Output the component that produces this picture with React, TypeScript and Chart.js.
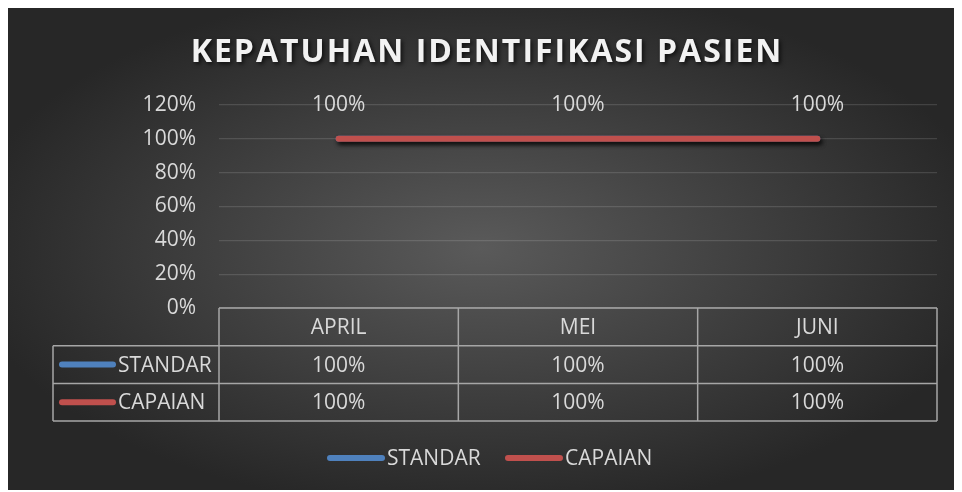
import React, { useEffect, useRef } from "react";
import { Chart, registerables } from "chart.js";

Chart.register(...registerables);

const categories = ["APRIL", "MEI", "JUNI"];
const standar = [1, 1, 1];
const capaian = [1, 1, 1];
const seriesNames = ["STANDAR", "CAPAIAN"];
const seriesColors = ["#4F81BD", "#C0504D"];
const titleText = "KEPATUHAN IDENTIFIKASI PASIEN";
const yMax = 1.2;
const yStep = 0.2;

const FONT = "'Open Sans', sans-serif";
const TEXT = "#D9D9D9";
const pct = (v: number) => Math.round(v * 100) + "%";

const decorPlugin = {
  id: "decor",
  beforeDraw(chart: any) {
    const { ctx, width, height } = chart;
    ctx.save();
    ctx.translate(width / 2, height / 2);
    ctx.scale(1, height / width);
    const g = ctx.createRadialGradient(0, 0, 0, 0, 0, width * 0.55);
    g.addColorStop(0, "#5a5a5a");
    g.addColorStop(1, "#272727");
    ctx.fillStyle = g;
    ctx.fillRect(-width, -width, width * 2, width * 2);
    ctx.restore();
  },
  beforeDatasetDraw(chart: any) {
    const ctx = chart.ctx;
    ctx.save();
    ctx.shadowColor = "rgba(0,0,0,0.55)";
    ctx.shadowBlur = 4;
    ctx.shadowOffsetX = 2;
    ctx.shadowOffsetY = 3;
  },
  afterDatasetDraw(chart: any) {
    chart.ctx.restore();
  },
  afterDraw(chart: any) {
    const { ctx, chartArea } = chart;
    const x = chart.scales.x;
    const y = chart.scales.y;
    // title
    ctx.save();
    ctx.font = `bold 32px ${FONT}`;
    (ctx as any).letterSpacing = "2px";
    ctx.fillStyle = "#F2F2F2";
    ctx.textAlign = "center";
    ctx.textBaseline = "middle";
    ctx.shadowColor = "rgba(0,0,0,0.7)";
    ctx.shadowBlur = 4;
    ctx.shadowOffsetX = 2;
    ctx.shadowOffsetY = 2;
    ctx.fillText(titleText, 479, 47);
    ctx.restore();

    ctx.save();
    ctx.font = `21px ${FONT}`;
    ctx.fillStyle = TEXT;
    ctx.textAlign = "center";
    ctx.textBaseline = "middle";
    // data labels
    capaian.forEach((v, i) => {
      ctx.fillText(pct(v), x.getPixelForValue(i), y.getPixelForValue(v) - 34);
    });

    // table
    const n = categories.length;
    const colW = (chartArea.right - chartArea.left) / n;
    const top = chartArea.bottom;
    const rowH = 37.7;
    const headB = top + rowH;
    const r1B = headB + rowH;
    const r2B = r1B + rowH;
    const leftX = 45;
    ctx.strokeStyle = "#A6A6A6";
    ctx.lineWidth = 1.5;
    ctx.beginPath();
    ctx.moveTo(chartArea.left, top);
    ctx.lineTo(chartArea.right, top);
    [headB, r1B, r2B].forEach((yy) => {
      ctx.moveTo(leftX, yy);
      ctx.lineTo(chartArea.right, yy);
    });
    for (let i = 0; i <= n; i++) {
      const xx = chartArea.left + colW * i;
      ctx.moveTo(xx, top);
      ctx.lineTo(xx, r2B);
    }
    ctx.moveTo(leftX, headB);
    ctx.lineTo(leftX, r2B);
    ctx.stroke();

    categories.forEach((c, i) => {
      ctx.fillText(c, x.getPixelForValue(i), (top + headB) / 2 + 1);
    });
    const rows = [standar, capaian];
    const rowMids = [(headB + r1B) / 2, (r1B + r2B) / 2];
    rows.forEach((vals, r) => {
      vals.forEach((v, i) => {
        ctx.fillText(pct(v), x.getPixelForValue(i), rowMids[r] + 1);
      });
    });
    // row keys
    ctx.lineCap = "round";
    ctx.lineWidth = 6;
    ctx.textAlign = "left";
    seriesNames.forEach((name, r) => {
      ctx.strokeStyle = seriesColors[r];
      ctx.beginPath();
      ctx.moveTo(54, rowMids[r]);
      ctx.lineTo(105, rowMids[r]);
      ctx.stroke();
      ctx.fillText(name, 110, rowMids[r] + 1);
    });

    // legend
    const ly = 452;
    const starts = [322, 500];
    seriesNames.forEach((name, r) => {
      const lx = starts[r];
      ctx.strokeStyle = seriesColors[r];
      ctx.beginPath();
      ctx.moveTo(lx, ly);
      ctx.lineTo(lx + 52, ly);
      ctx.stroke();
      ctx.fillText(name, lx + 57, ly + 1);
    });
    ctx.restore();
  },
};

export default function App() {
  const ref = useRef<HTMLCanvasElement>(null);
  useEffect(() => {
    if (!ref.current) return;
    const chart = new Chart(ref.current, {
      type: "line",
      data: {
        labels: categories,
        datasets: [
          {
            label: seriesNames[0],
            data: standar,
            borderColor: seriesColors[0],
            backgroundColor: seriesColors[0],
            borderWidth: 6,
            borderCapStyle: "round",
            pointRadius: 0,
            order: 1,
          },
          {
            label: seriesNames[1],
            data: capaian,
            borderColor: seriesColors[1],
            backgroundColor: seriesColors[1],
            borderWidth: 6,
            borderCapStyle: "round",
            pointRadius: 0,
            order: 0,
          },
        ],
      },
      options: {
        animation: false,
        responsive: true,
        maintainAspectRatio: false,
        layout: { padding: { top: 99, bottom: 182, left: 0, right: 17 } },
        plugins: {
          legend: { display: false },
          title: { display: false },
          tooltip: { enabled: false },
        },
        scales: {
          x: { display: false, offset: true },
          y: {
            min: 0,
            max: yMax,
            ticks: {
              stepSize: yStep,
              padding: 23,
              color: TEXT,
              font: { family: FONT, size: 21 },
              callback: (v: any) => pct(Number(v)),
            },
            grid: {
              color: "rgba(255,255,255,0.13)",
              lineWidth: 1.3,
              drawTicks: false,
            },
            border: { display: false },
            afterFit: (s: any) => {
              s.width = 211;
            },
          },
        },
      },
      plugins: [decorPlugin],
    });
    return () => chart.destroy();
  }, []);
  return (
    <div style={{ width: 946, height: 484, marginTop: -2, position: "relative" }}>
      <canvas ref={ref} />
    </div>
  );
}
